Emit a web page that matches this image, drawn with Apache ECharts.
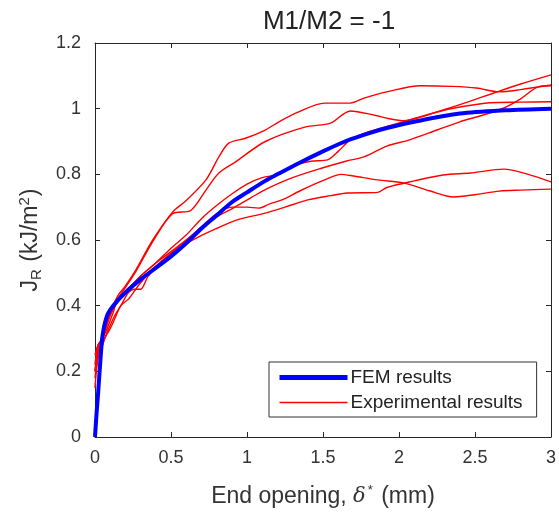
<!DOCTYPE html>
<html>
<head>
<meta charset="utf-8">
<script src="https://cdn.jsdelivr.net/npm/echarts@6/dist/echarts.min.js"></script>
<style>
html,body{margin:0;padding:0;background:#fff;}
#chart{width:559px;height:518px;}
</style>
</head>
<body>
<div id="chart"></div>
<script>
const titleText = 'M1/M2 = -1';
const xTicks = [0, 0.5, 1, 1.5, 2, 2.5, 3];
const yTicks = [0, 0.2, 0.4, 0.6, 0.8, 1, 1.2];
const femName = 'FEM results';
const expName = 'Experimental results';

const fem = [[0,0],[0.01,0.07],[0.02,0.13],[0.035,0.23],[0.05,0.31],[0.08,0.37],[0.12,0.40],[0.2,0.44],[0.3,0.48],[0.4,0.515],[0.5,0.55],[0.6,0.59],[0.7,0.635],[0.8,0.675],[0.9,0.715],[1.0,0.745],[1.12,0.78],[1.2,0.80],[1.34,0.834],[1.5,0.87],[1.66,0.903],[1.8,0.925],[1.92,0.941],[2.1,0.96],[2.4,0.985],[2.7,0.995],[3.0,1.0]];

const exp1 = [[0,0.2],[0.02,0.27],[0.05,0.31],[0.1,0.38],[0.15,0.43],[0.2,0.46],[0.27,0.51],[0.38,0.6],[0.51,0.685],[0.6,0.72],[0.73,0.783],[0.815,0.853],[0.88,0.895],[0.99,0.91],[1.12,0.935],[1.21,0.96],[1.34,0.99],[1.51,1.017],[1.68,1.017],[1.77,1.032],[1.92,1.051],[2.14,1.07],[2.35,1.068],[2.51,1.063],[2.66,1.051],[2.8,1.058],[3.0,1.072]];
const exp2 = [[0,0.22],[0.02,0.28],[0.05,0.3],[0.1,0.37],[0.15,0.42],[0.2,0.455],[0.27,0.505],[0.38,0.595],[0.51,0.68],[0.63,0.69],[0.73,0.752],[0.815,0.804],[0.925,0.838],[1.12,0.9],[1.38,0.944],[1.55,0.956],[1.68,0.993],[1.84,0.98],[1.93,0.97],[2.03,0.963],[2.15,0.975],[2.29,0.996],[2.45,1.02],[2.62,1.047],[2.8,1.075],[3.0,1.103]];
const exp3 = [[0,0.18],[0.02,0.25],[0.05,0.3],[0.08,0.33],[0.12,0.38],[0.15,0.42],[0.2,0.44],[0.3,0.49],[0.4,0.53],[0.5,0.565],[0.6,0.6],[0.7,0.635],[0.8,0.67],[0.9,0.695],[1.03,0.73],[1.14,0.758],[1.3,0.79],[1.5,0.82],[1.65,0.84],[1.77,0.853],[1.92,0.886],[2.07,0.905],[2.25,0.935],[2.4,0.96],[2.55,0.98],[2.69,1.002],[2.8,1.03],[2.92,1.067],[3.0,1.07]];
const exp4 = [[0,0.25],[0.02,0.28],[0.05,0.3],[0.08,0.35],[0.12,0.39],[0.2,0.44],[0.3,0.49],[0.4,0.53],[0.5,0.575],[0.6,0.615],[0.7,0.665],[0.8,0.705],[0.9,0.74],[1.0,0.77],[1.1,0.79],[1.21,0.80],[1.3,0.825],[1.42,0.84],[1.53,0.844],[1.6,0.87],[1.68,0.905],[1.8,0.93],[1.95,0.95],[2.1,0.97],[2.25,0.99],[2.4,1.005],[2.6,1.018],[2.8,1.02],[3.0,1.021]];
const exp5 = [[0,0.2],[0.02,0.26],[0.05,0.29],[0.1,0.33],[0.13,0.36],[0.17,0.40],[0.22,0.42],[0.3,0.47],[0.4,0.52],[0.5,0.56],[0.6,0.6],[0.7,0.64],[0.8,0.68],[0.9,0.70],[1.0,0.70],[1.076,0.697],[1.15,0.71],[1.23,0.722],[1.35,0.75],[1.51,0.783],[1.62,0.80],[1.7,0.795],[1.86,0.783],[2.03,0.774],[2.2,0.75],[2.36,0.731],[2.5,0.738],[2.66,0.749],[2.8,0.752],[3.0,0.755]];
const exp6 = [[0,0.15],[0.02,0.24],[0.05,0.28],[0.08,0.32],[0.1,0.34],[0.13,0.37],[0.17,0.40],[0.22,0.44],[0.26,0.45],[0.3,0.45],[0.35,0.49],[0.45,0.54],[0.55,0.575],[0.685,0.61],[0.8,0.635],[0.925,0.66],[1.12,0.682],[1.25,0.7],[1.4,0.722],[1.55,0.735],[1.66,0.743],[1.86,0.745],[1.92,0.76],[2.1,0.78],[2.29,0.798],[2.47,0.804],[2.69,0.816],[2.85,0.8],[3.0,0.777]];
const expCurves = [exp1, exp2, exp3, exp4, exp5, exp6];

const FONT = 'Liberation Sans, Arial, Helvetica, sans-serif';
const axisCol = '#262626';
const chart = echarts.init(document.getElementById('chart'), null, {renderer: 'canvas'});

function baseAxis(extra) {
  return Object.assign({
    type: 'value',
    axisLine: {show: true, onZero: false, lineStyle: {color: axisCol, width: 1}},
    axisTick: {show: true, inside: true, length: 5, lineStyle: {color: axisCol}},
    splitLine: {show: false}
  }, extra);
}

const series = [];
expCurves.forEach(function (d) {
  series.push({
    name: expName, type: 'line', data: d, showSymbol: false, symbol: 'none',
    smooth: 0.3, lineStyle: {color: '#ff0000', width: 1.4}, itemStyle: {color: '#ff0000'},
    z: 2, silent: true
  });
});
series.push({
  name: femName, type: 'line', data: fem, showSymbol: false, symbol: 'none',
  smooth: 0.3, lineStyle: {color: '#0000ff', width: 4}, itemStyle: {color: '#0000ff'},
  z: 3, silent: true
});

chart.setOption({
  animation: false,
  backgroundColor: '#ffffff',
  title: {
    text: titleText, left: 324, top: 4, textAlign: 'center',
    textStyle: {fontFamily: FONT, fontSize: 26, fontWeight: 'normal', color: '#222'}
  },
  grid: {left: 95, right: 4, top: 43, bottom: 81, containLabel: false},
  legend: {
    data: [
      {name: femName, itemStyle: {opacity: 0}, lineStyle: {color: '#0000ff', width: 5}},
      {name: expName, itemStyle: {opacity: 0}, lineStyle: {color: '#ff0000', width: 1.5}}
    ],
    orient: 'vertical', left: 269, top: 362,
    itemWidth: 68, itemHeight: 14, itemGap: 6,
    padding: [6, 14, 5, 8],
    borderColor: '#333', borderWidth: 1, backgroundColor: '#fff',
    textStyle: {fontFamily: FONT, fontSize: 19, color: '#222', padding: [0, 0, 0, -2]},
    selectedMode: false
  },
  xAxis: [
    baseAxis({
      min: 0, max: 3, interval: 0.5, position: 'bottom',
      axisLabel: {fontFamily: FONT, fontSize: 18, color: '#333', margin: 12,
        formatter: function (v) { return xTicks.indexOf(v) >= 0 ? String(v) : ''; }},
      name: '{a|End opening, }{d|δ}{s|*}{a| (mm)}',
      nameLocation: 'middle', nameGap: 47,
      nameTextStyle: {rich: {
        a: {fontFamily: FONT, fontSize: 23, color: '#333'},
        d: {fontFamily: 'DejaVu Serif, serif', fontStyle: 'italic', fontSize: 21, color: '#333'},
        s: {fontFamily: FONT, fontSize: 13, color: '#333', verticalAlign: 'top', padding: [0, 2, 12, 2]}
      }}
    }),
    baseAxis({min: 0, max: 3, interval: 0.5, position: 'top', axisLabel: {show: false}})
  ],
  yAxis: [
    baseAxis({
      min: 0, max: 1.2, interval: 0.2, position: 'left',
      axisLabel: {fontFamily: FONT, fontSize: 18, color: '#333', margin: 14,
        formatter: function (v) { var r = Math.round(v * 10) / 10; return yTicks.indexOf(r) >= 0 ? String(r) : ''; }},
      name: '{a|J}{b|R}{a| (kJ/m}{c|2}{a|)}',
      nameLocation: 'middle', nameGap: 51, nameRotate: 90,
      nameTextStyle: {rich: {
        a: {fontFamily: FONT, fontSize: 23, color: '#333'},
        b: {fontFamily: FONT, fontSize: 15, color: '#333', padding: [12, 1, 0, 0]},
        c: {fontFamily: FONT, fontSize: 15, color: '#333', padding: [0, 1, 12, 0]}
      }}
    }),
    baseAxis({min: 0, max: 1.2, interval: 0.2, position: 'right', axisLabel: {show: false}})
  ],
  series: series
});
</script>
</body>
</html>
